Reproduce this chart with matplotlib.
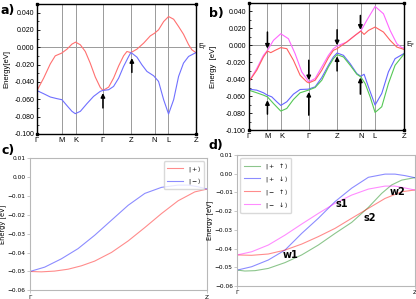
import numpy as np
import matplotlib.pyplot as plt

# ---- panel a : two bands along the path
ka_ticks = [0, 0.155, 0.243, 0.415, 0.591, 0.740, 0.826, 1.0]
k_labels = ['Γ', 'M', 'K', 'Γ', 'Z', 'N', 'L', 'Z']

ka_red = [0, .042, .084, .115, .155, .189, .220, .243, .273, .304, .335, .367, .398, .415, .451, .482,
          .514, .545, .566, .591, .629, .671, .713, .740, .765, .797, .828, .860, .891, .922, .954, .975, 1.0]
Ea_red = [-.050, -.0356, -.0191, -.0099, -.0068, -.0022, .0036, .0059, .0028, -.0049, -.0183, -.0344,
          -.0463, -.0498, -.0460, -.0356, -.0215, -.0099, -.0049, -.0062, -.0022, .0047, .0131, .0162,
          .0201, .0296, .0354, .0323, .0239, .0150, .0030, -.0030, -.0062]
ka_blue = [0, .042, .084, .126, .157, .189, .220, .241, .273, .314, .356, .398, .415, .451, .482, .514,
           .545, .577, .591, .629, .660, .692, .734, .765, .797, .828, .860, .891, .922, .954, 1.0]
Ea_blue = [-.050, -.0536, -.0574, -.0593, -.0605, -.0674, -.0739, -.0766, -.0739, -.0651, -.0567, -.0509,
           -.0498, -.0490, -.0452, -.0356, -.0221, -.0106, -.0060, -.0114, -.0202, -.0279, -.0329, -.0394,
           -.0605, -.0770, -.0605, -.0337, -.0183, -.0106, -.0062]
# arrows (k, tail, head)
arrows_a = [(0.415, -0.070, -0.0528), (0.597, -0.029, -0.0125)]

# ---- panel b : four bands
kb_ticks = [0, .1204, .2108, .3871, .5699, .7226, .8129, 1.0]

kb_mag = [0, .0516, .0946, .1204, .1591, .2065, .2559, .2989, .3419, .3871, .428, .471, .514, .546, .570,
          .632, .686, .723, .761, .815, .869, .912, .955, .987, 1.0]
Eb_mag = [-.0431, -.0274, -.0118, -.0059, .0059, .0137, .0078, -.0098, -.0313, -.0431, -.0392, -.0255,
          -.0118, -.0039, -.0008, .0039, .0118, .0169, .0294, .0459, .0373, .0176, .0020, -.0027, -.0031]
kb_red = [0, .0516, .0946, .1204, .1419, .1699, .2065, .2452, .2882, .3312, .3742, .3871, .428, .471, .514,
          .546, .570, .632, .686, .723, .744, .772, .815, .869, .912, .955, 1.0]
Eb_red = [-.0431, -.0294, -.0137, -.0067, -.0086, -.0059, -.0027, -.0039, -.0176, -.0353, -.0431, -.0443,
          -.0412, -.0294, -.0145, -.0059, -.0039, .0039, .0118, .0169, .0129, .0176, .0216, .0157, .0059,
          -.0020, -.0047]
kb_blue = [0, .0516, .0946, .1204, .1484, .1806, .2065, .2452, .2882, .3312, .3849, .428, .471, .514, .546,
           .570, .611, .654, .697, .723, .744, .772, .815, .858, .901, .944, 1.0]
Eb_blue = [-.0517, -.0529, -.0560, -.0588, -.0608, -.0666, -.0709, -.0666, -.0576, -.0521, -.0517, -.0490,
           -.0380, -.0235, -.0137, -.0090, -.0118, -.0216, -.0333, -.0365, -.0341, -.0490, -.0705, -.0568,
           -.0313, -.0157, -.0098]
kb_green = [0, .0516, .0946, .1204, .1591, .2065, .2452, .2882, .3312, .3849, .428, .471, .514, .546, .570,
            .611, .654, .697, .723, .751, .783, .815, .858, .901, .944, 1.0]
Eb_green = [-.0529, -.0560, -.0588, -.0608, -.0686, -.0776, -.0745, -.0639, -.0560, -.0529, -.0498, -.0412,
            -.0255, -.0157, -.0110, -.0137, -.0235, -.0341, -.0373, -.0451, -.0608, -.0792, -.0725, -.0451,
            -.0235, -.0106]
arrows_b = [(.1204, .0157, -.0039), (.1204, -.0812, -.0647),
            (.3871, -.0176, -.0412), (.3871, -.0824, -.0549),
            (.5699, .0184, 0.0), (.5699, -.0302, -.0129),
            (.720, .0353, .0184), (.720, -.0576, -.0380)]

# ---- panel c : Gamma -> Z, two states
kc_plus = [0, .064, .139, .215, .290, .365, .460, .554, .648, .742, .836, .930, 1.0]
Ec_plus = [-.0500, -.0502, -.0498, -.0488, -.0470, -.0445, -.0399, -.0338, -.0267, -.0193, -.0125, -.0078, -.0063]
kc_minus = [0, .083, .177, .271, .365, .460, .554, .648, .742, .836, .893, .949, 1.0]
Ec_minus = [-.0500, -.0477, -.0433, -.0379, -.0308, -.0228, -.0149, -.0086, -.0054, -.0042, -.0042, -.0051, -.0063]

# ---- panel d : Gamma -> Z, four spin states
kd_pu = [0, .043, .100, .175, .269, .363, .457, .551, .645, .739, .814, .870, .927, 1.0]
Ed_pu = [-.0515, -.0520, -.0518, -.0506, -.0475, -.0434, -.0381, -.0319, -.0260, -.0180, -.0105, -.0060, -.0034, -.0021]
kd_pd = [0, .081, .175, .269, .363, .457, .551, .645, .739, .833, .889, .945, 1.0]
Ed_pd = [-.0515, -.0497, -.0461, -.0408, -.0319, -.0238, -.0149, -.0077, -.0019, -.0002, -.0002, -.0010, -.0021]
kd_mu = [0, .081, .175, .269, .363, .457, .551, .645, .739, .833, .927, 1.0]
Ed_mu = [-.0434, -.0436, -.0429, -.0408, -.0376, -.0336, -.0292, -.0238, -.0185, -.0132, -.0096, -.0087]
kd_md = [0, .081, .175, .269, .363, .457, .551, .645, .739, .833, .889, .945, 1.0]
Ed_md = [-.0434, -.0417, -.0381, -.0328, -.0269, -.0212, -.0158, -.0114, -.0082, -.0066, -.0066, -.0076, -.0087]
d_notes = [('w1', .30, -.0435), ('s1', .59, -.0162), ('s2', .745, -.0235), ('w2', .905, -.0095)]


fig = plt.figure(figsize=(4.16, 2.99), dpi=100)

grace = 'Liberation Sans'


def band_axes(ax, kt, ylab, ylab_x):
    ax.set_xlim(0, 1)
    ax.set_ylim(-0.1, 0.05)
    for k in kt[1:-1]:
        ax.axvline(k, color='#9a9a9a', lw=0.7, zorder=0)
    ax.axhline(0, color='#9a9a9a', lw=0.7, zorder=0)
    ax.set_xticks(kt)
    ax.set_xticklabels(k_labels, fontsize=5.5, family=grace)
    ax.tick_params(axis='x', length=0, pad=2)
    ax.set_yticks(np.arange(-0.1, 0.041, 0.02))
    ax.yaxis.set_major_formatter(plt.FormatStrFormatter('%.3f'))
    ax.set_yticks(np.arange(-0.1, 0.05, 0.01), minor=True)
    ax.tick_params(axis='y', direction='in', length=2.5, width=0.6, labelsize=5, pad=2)
    ax.tick_params(axis='y', which='minor', direction='in', length=1.3, width=0.5)
    for lab in ax.get_yticklabels():
        lab.set_family(grace)
    for s in ax.spines.values():
        s.set_linewidth(1.0)
    ax.set_ylabel(ylab, fontsize=5.5, family=grace)
    ax.yaxis.set_label_coords(ylab_x, 0.5)
    ax.text(1.012, 0, 'E$_\\mathrm{F}$', transform=ax.get_yaxis_transform(),
            fontsize=5, va='center', ha='left', family=grace)
    ax.plot([0, 1, 0, 1], [0, 0, 1, 1], 's', ms=2, color='k', transform=ax.transAxes, clip_on=False)


def arrow(ax, k, tail, head):
    ax.annotate('', xy=(k, head), xytext=(k, tail),
                arrowprops=dict(arrowstyle='-|>', color='k', lw=1.1, mutation_scale=6,
                                shrinkA=0, shrinkB=0))


# a)
ax = fig.add_axes([0.0889, 0.552, 0.382, 0.435])
band_axes(ax, ka_ticks, 'Energy[eV]', -0.167)
ax.plot(ka_red, Ea_red, color='#ff7070', lw=0.8)
ax.plot(ka_blue, Ea_blue, color='#7070ff', lw=0.8)
for a in arrows_a:
    arrow(ax, *a)
fig.text(0.002, 0.965, 'a)', fontsize=9, fontweight='bold', va='center')

# b)
ax = fig.add_axes([0.598, 0.565, 0.3726, 0.425])
band_axes(ax, kb_ticks, 'Energy  [eV]', -0.208)
ax.plot(kb_mag, Eb_mag, color='#ff66ff', lw=0.8)
ax.plot(kb_red, Eb_red, color='#ff6060', lw=0.8)
ax.plot(kb_blue, Eb_blue, color='#6666ff', lw=0.8)
ax.plot(kb_green, Eb_green, color='#55c855', lw=0.8)
for a in arrows_b:
    arrow(ax, *a)
fig.text(0.502, 0.955, 'b)', fontsize=9, fontweight='bold', va='center')


def spin_axes(ax):
    ax.set_xlim(0, 1)
    ax.set_ylim(-0.06, 0.01)
    ax.set_xticks([0, 1])
    ax.set_xticklabels(['Γ', 'Z'])
    ax.set_yticks(np.arange(-0.06, 0.011, 0.01))
    ax.tick_params(labelsize=4.2, length=2, width=0.5, color='#b0b0b0', pad=1.2)
    for s in ax.spines.values():
        s.set_color('#b8b8b8')
        s.set_linewidth(0.8)
    ax.set_ylabel('Energy [eV]', fontsize=4.8)
    ax.yaxis.set_label_coords(-0.136, 0.5)


# c)
ax = fig.add_axes([0.0721, 0.029, 0.426, 0.4415])
spin_axes(ax)
ax.plot(kc_plus, Ec_plus, color='red', alpha=0.45, lw=0.8, label=r'$|+\rangle$')
ax.plot(kc_minus, Ec_minus, color='blue', alpha=0.45, lw=0.8, label=r'$|-\rangle$')
ax.legend(loc='upper right', fontsize=4.5, handlelength=2.6, frameon=True, edgecolor='#d0d0d0',
          fancybox=True, borderpad=0.4, labelspacing=0.4)
fig.text(0.003, 0.495, 'c)', fontsize=9, fontweight='bold', va='center')

# d)
ax = fig.add_axes([0.5704, 0.0435, 0.4264, 0.438])
spin_axes(ax)
ax.plot(kd_pu, Ed_pu, color='green', alpha=0.45, lw=0.8, label=r'$|+\ \uparrow\rangle$')
ax.plot(kd_pd, Ed_pd, color='blue', alpha=0.45, lw=0.8, label=r'$|+\ \downarrow\rangle$')
ax.plot(kd_mu, Ed_mu, color='red', alpha=0.45, lw=0.8, label=r'$|-\ \uparrow\rangle$')
ax.plot(kd_md, Ed_md, color='magenta', alpha=0.45, lw=0.8, label=r'$|-\ \downarrow\rangle$')
for t, x, y in d_notes:
    ax.text(x, y, t, fontsize=7, fontweight='bold', ha='center', va='center')
ax.legend(loc='upper left', fontsize=4.5, handlelength=2.6, frameon=True, edgecolor='#d0d0d0',
          fancybox=True, borderpad=0.5, labelspacing=0.45)
fig.text(0.502, 0.512, 'd)', fontsize=9, fontweight='bold', va='center')

fig.savefig('out.png', dpi=100)
